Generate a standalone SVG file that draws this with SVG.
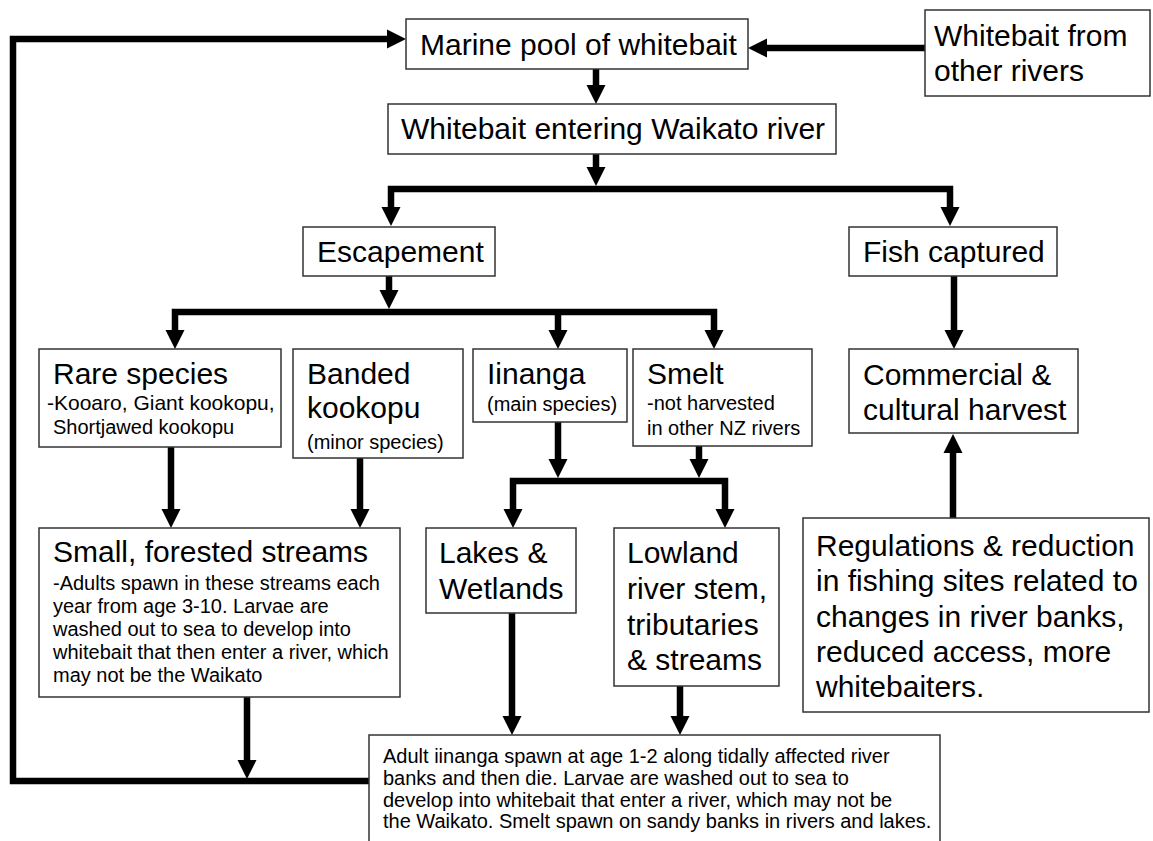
<svg xmlns="http://www.w3.org/2000/svg" width="1153" height="841" viewBox="0 0 1153 841">
<style>
.box{fill:#fff;stroke:#333;stroke-width:1.5}
text{font-family:"Liberation Sans",Arial,sans-serif;fill:#000}
.b{font-size:30px}
.s{font-size:20px}
.c{fill:none;stroke:#000;stroke-width:6.5;stroke-linejoin:miter}
.a{marker-end:url(#ah)}
.a2{marker-start:url(#ah);marker-end:url(#ah)}
</style>
<defs>
<marker id="ah" markerUnits="userSpaceOnUse" markerWidth="20" markerHeight="20" viewBox="0 0 20 20" refX="9" refY="10" orient="auto-start-reverse">
<path d="M0,0.5 L19,10 L0,19.5 z" fill="#000"/>
</marker>
</defs>
<rect width="1153" height="841" fill="#fff"/>
<g id="connectors">
<path class="c a" d="M369,781 H13 V39 H396"/>
<path class="c a" d="M247,697 V769"/>
<path class="c a" d="M925,48 H758"/>
<path class="c a" d="M596,69 V94"/>
<path class="c a" d="M596,154 V176"/>
<path class="c a2" d="M391,216 V189 H950 V216"/>
<path class="c a" d="M389,276 V299"/>
<path class="c a2" d="M175,339 V312 H714 V339"/>
<path class="c a" d="M558,312 V339"/>
<path class="c a" d="M954,276 V339"/>
<path class="c a" d="M171,447 V518"/>
<path class="c a" d="M360,458 V518"/>
<path class="c a" d="M558,422 V468"/>
<path class="c a" d="M699,446 V468"/>
<path class="c a2" d="M513,518 V481 H725 V518"/>
<path class="c a" d="M512,613 V725"/>
<path class="c a" d="M680,686 V725"/>
<path class="c a" d="M953,518 V444"/>
</g>
<g id="marine">
<rect class="box" x="406" y="19" width="342" height="50"/>
<text class="b" x="420" y="55">Marine pool of whitebait</text>
</g>
<g id="other-rivers">
<rect class="box" x="925" y="10" width="225" height="86"/>
<text class="b" x="934" y="46">Whitebait from</text>
<text class="b" x="934" y="81">other rivers</text>
</g>
<g id="entering">
<rect class="box" x="388" y="104" width="448" height="50"/>
<text class="b" x="401" y="139">Whitebait entering Waikato river</text>
</g>
<g id="escapement">
<rect class="box" x="303" y="227" width="192" height="49"/>
<text class="b" x="317" y="262">Escapement</text>
</g>
<g id="fish-captured">
<rect class="box" x="849" y="227" width="208" height="49"/>
<text class="b" x="863" y="262">Fish captured</text>
</g>
<g id="rare">
<rect class="box" x="39" y="349" width="242" height="98"/>
<text class="b" x="53" y="384">Rare species</text>
<text x="47" y="410" font-size="21">-Kooaro, Giant kookopu,</text>
<text class="s" x="53" y="434">Shortjawed kookopu</text>
</g>
<g id="banded">
<rect class="box" x="293" y="349" width="170" height="109"/>
<text class="b" x="307" y="384">Banded</text>
<text class="b" x="307" y="418">kookopu</text>
<text class="s" x="307" y="449">(minor species)</text>
</g>
<g id="iinanga">
<rect class="box" x="473" y="349" width="154" height="73"/>
<text class="b" x="487" y="384">Iinanga</text>
<text class="s" x="487" y="411">(main species)</text>
</g>
<g id="smelt">
<rect class="box" x="633" y="349" width="179" height="97"/>
<text class="b" x="647" y="384">Smelt</text>
<text class="s" x="647" y="410">-not harvested</text>
<text class="s" x="647" y="435">in other NZ rivers</text>
</g>
<g id="commercial">
<rect class="box" x="849" y="349" width="229" height="84"/>
<text class="b" x="863" y="385">Commercial &amp;</text>
<text class="b" x="863" y="420">cultural harvest</text>
</g>
<g id="small-streams">
<rect class="box" x="39" y="528" width="361" height="169"/>
<text class="b" x="53" y="562">Small, forested streams</text>
<text class="s" x="53" y="590">-Adults spawn in these streams each</text>
<text class="s" x="53" y="613">year from age 3-10. Larvae are</text>
<text class="s" x="53" y="636">washed out to sea to develop into</text>
<text class="s" x="53" y="659">whitebait that then enter a river, which</text>
<text class="s" x="53" y="682">may not be the Waikato</text>
</g>
<g id="lakes">
<rect class="box" x="426" y="528" width="150" height="85"/>
<text class="b" x="439" y="563">Lakes &amp;</text>
<text class="b" x="439" y="599">Wetlands</text>
</g>
<g id="lowland">
<rect class="box" x="614" y="528" width="165" height="158"/>
<text class="b" x="627" y="563">Lowland</text>
<text class="b" x="627" y="599">river stem,</text>
<text class="b" x="627" y="635">tributaries</text>
<text class="b" x="627" y="670">&amp; streams</text>
</g>
<g id="regulations">
<rect class="box" x="803" y="518" width="346" height="194"/>
<text class="b" x="816" y="556">Regulations &amp; reduction</text>
<text class="b" x="816" y="591">in fishing sites related to</text>
<text class="b" x="816" y="627">changes in river banks,</text>
<text class="b" x="816" y="662">reduced access, more</text>
<text class="b" x="816" y="697">whitebaiters.</text>
</g>
<g id="adult">
<rect class="box" x="369" y="735" width="571" height="120"/>
<text class="s" x="383" y="763">Adult iinanga spawn at age 1-2 along tidally affected river</text>
<text class="s" x="383" y="785">banks and then die. Larvae are washed out to sea to</text>
<text class="s" x="383" y="807">develop into whitebait that enter a river, which may not be</text>
<text class="s" x="383" y="828">the Waikato. Smelt spawn on sandy banks in rivers and lakes.</text>
</g>
</svg>
